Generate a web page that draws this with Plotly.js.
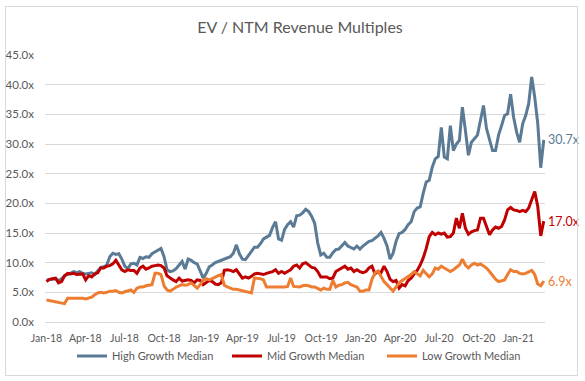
<!DOCTYPE html>
<html>
<head>
<meta charset="utf-8">
<script src="https://cdn.plot.ly/plotly-3.0.1.min.js"></script>
<style>
  html, body { margin: 0; padding: 0; background: #ffffff; }
  #wrap { position: relative; width: 585px; height: 381px; }
  #chart { position: absolute; left: 0; top: 0; width: 585px; height: 381px; }
  #frame { position: absolute; left: 5px; top: 6px; width: 573px; height: 370px;
           border: 1px solid #d9d9d9; box-sizing: border-box; pointer-events: none; }
</style>
</head>
<body>
<div id="wrap"><div id="chart"></div><div id="frame"></div></div>
<script>
// Series names
const seriesNames = ['High Growth Median', 'Mid Growth Median', 'Low Growth Median'];
const seriesColors = ['#5a7a95', '#c00000', '#ed7d31'];

// Weekly observations starting 2018-01-01 (one value per week)
const firstDate = '2018-01-01';

const highGrowth = [
  7.1,7.1,7.2,7.3,7.0,7.3,7.8,8.0,8.3,8.5,
  8.3,8.5,8.2,8.1,8.2,8.3,8.0,8.6,9.2,9.3,
  9.6,11.0,11.6,11.4,11.5,10.6,9.4,9.0,9.8,9.9,
  9.6,10.9,10.7,11.0,10.9,11.5,11.8,12.2,12.4,11.0,
  8.8,8.5,8.6,9.0,9.6,10.2,8.9,10.6,10.4,10.0,
  9.8,8.7,7.4,8.2,9.3,9.6,10.0,10.2,10.4,10.6,
  10.8,11.0,11.6,13.0,11.5,10.6,10.5,11.2,12.0,12.6,
  12.6,13.2,14.0,14.3,14.6,15.9,16.9,14.0,13.8,15.6,
  16.4,16.9,16.0,17.9,18.0,18.4,19.0,18.6,17.8,16.6,
  13.3,11.3,11.6,10.9,10.9,11.7,12.2,12.3,12.8,13.4,
  12.8,12.5,12.3,12.8,12.3,12.8,13.2,13.6,13.7,14.1,
  14.5,15.1,14.1,12.8,10.6,11.6,13.6,14.9,15.1,15.6,
  16.4,16.9,18.6,19.2,19.4,21.7,23.6,23.9,26.1,27.5,
  27.9,32.8,27.8,27.5,33.1,28.9,30.0,30.6,36.2,32.3,
  28.1,30.3,30.9,31.5,34.0,36.5,32.6,30.9,28.9,28.9,
  31.5,33.1,34.8,35.1,38.4,34.5,32.0,30.3,33.4,34.8,
  36.8,41.3,37.9,33.5,26.0,30.7
];

const midGrowth = [
  6.8,7.2,7.3,7.4,6.6,6.8,7.8,8.2,8.1,8.2,
  8.0,8.0,8.1,7.1,7.8,7.6,8.1,8.3,9.1,9.1,
  9.4,9.5,9.8,10.4,9.6,8.8,8.5,8.8,8.7,8.7,
  8.2,9.1,9.4,8.9,9.1,9.4,9.5,9.6,9.5,9.1,
  7.8,7.4,7.1,6.8,7.4,6.9,7.0,7.1,7.0,6.6,
  7.1,7.0,6.3,6.6,7.0,6.8,6.4,6.3,6.6,8.7,
  8.8,8.7,8.5,8.8,8.0,7.4,7.6,7.4,7.7,8.1,
  8.2,8.1,8.0,8.2,8.3,8.5,8.8,8.2,8.5,8.2,
  8.5,8.8,9.4,9.6,9.1,9.8,10.0,9.6,9.2,9.1,
  8.5,7.6,7.6,7.6,7.3,7.4,8.5,8.8,9.1,9.4,
  8.9,9.1,8.5,8.8,8.5,8.3,8.5,9.1,9.4,8.1,
  8.5,8.3,9.4,8.5,7.2,6.8,7.0,5.7,6.3,6.1,
  7.0,7.4,8.1,8.7,9.6,10.8,12.4,14.4,15.1,14.7,
  15.0,14.8,15.0,14.3,14.4,15.0,17.5,15.8,18.3,15.8,
  14.8,15.2,15.4,15.5,17.5,17.5,16.1,14.7,15.5,16.0,
  15.8,16.1,17.2,18.9,19.3,18.9,18.8,18.6,18.8,18.6,
  19.2,20.5,22.0,19.5,14.5,17.0
];

const lowGrowth = [
  3.7,3.6,3.5,3.5,3.4,3.2,3.1,4.0,4.0,4.0,
  4.1,4.1,4.0,3.9,4.0,4.2,4.6,4.9,5.0,4.9,
  5.0,5.2,5.2,5.3,5.0,4.9,5.1,5.3,5.4,5.0,
  5.7,5.9,5.9,6.1,6.2,6.3,8.2,8.2,8.0,6.1,
  5.4,5.2,5.5,5.9,6.1,6.3,6.2,6.3,6.6,6.2,
  5.7,6.3,7.0,7.3,7.1,7.3,7.6,7.8,8.0,6.2,
  5.9,5.7,5.5,5.5,5.4,5.3,5.2,5.0,4.9,7.4,
  7.4,7.3,7.1,5.9,5.9,5.9,5.8,5.9,5.8,5.9,
  6.0,7.4,6.0,5.9,5.9,6.1,6.2,6.1,5.9,5.9,
  5.7,5.4,5.7,5.5,5.5,7.0,5.9,6.2,6.3,6.6,
  6.7,6.3,6.1,5.9,5.2,5.2,5.4,5.4,7.2,8.3,
  8.6,7.6,6.8,6.3,5.7,5.2,5.9,6.6,7.0,7.3,
  7.7,8.0,8.5,8.2,7.8,8.7,8.1,7.6,8.1,9.1,
  8.9,9.4,9.1,8.8,8.5,8.8,9.2,9.6,10.6,9.6,
  9.1,9.6,9.9,9.6,9.8,9.4,9.1,8.5,7.8,7.2,
  6.8,7.0,7.1,8.0,8.8,8.5,8.5,8.2,8.1,8.2,
  8.5,8.7,8.0,6.4,6.1,6.9
];

// Axis settings
const xRange = ['2017-12-28 12:00', '2021-03-03 21:00'];
const yRange = [0, 45];

function weeklyDates(start, n) {
  const t0 = new Date(start + 'T00:00:00Z').getTime();
  const out = [];
  for (let i = 0; i < n; i++) {
    out.push(new Date(t0 + i * 7 * 86400000).toISOString().slice(0, 10));
  }
  return out;
}

const allSeries = [highGrowth, midGrowth, lowGrowth];
const traces = allSeries.map((vals, k) => ({
  type: 'scatter',
  mode: 'lines',
  name: seriesNames[k],
  x: weeklyDates(firstDate, vals.length),
  y: vals,
  line: { color: seriesColors[k], width: 3 },
  hoverinfo: 'skip'
}));

const annotations = allSeries.map((vals, k) => {
  const xs = weeklyDates(firstDate, vals.length);
  const last = vals[vals.length - 1];
  return {
    x: xs[xs.length - 1], y: last, xref: 'x', yref: 'y',
    text: last.toFixed(1) + 'x', showarrow: false,
    xanchor: 'left', yanchor: 'middle', xshift: 2,
    font: { family: 'Lato, sans-serif', size: 12.5, color: seriesColors[k] }
  };
});

const layout = {
  width: 585, height: 381,
  margin: { l: 45, r: 40, t: 55, b: 59, pad: 0 },
  paper_bgcolor: '#ffffff', plot_bgcolor: '#ffffff',
  font: { family: 'Lato, sans-serif', color: '#595959', size: 11 },
  title: {
    text: 'EV / NTM Revenue Multiples',
    font: { family: 'Lato, sans-serif', size: 16, color: '#595959' },
    x: 300 / 585, xanchor: 'center', xref: 'container',
    y: 1 - 27 / 381, yanchor: 'middle', yref: 'container'
  },
  xaxis: {
    type: 'date', range: xRange,
    tick0: '2018-01-01', dtick: 'M3', tickformat: '%b-%y',
    showgrid: false, zeroline: false,
    showline: true, linecolor: '#d9d9d9', linewidth: 1,
    ticks: '', ticklabelstandoff: 6,
    tickfont: { size: 10.5, color: '#595959' }, fixedrange: true
  },
  yaxis: {
    range: yRange, dtick: 5, tickformat: '.1f', ticksuffix: 'x',
    showgrid: true, gridcolor: '#d9d9d9', gridwidth: 1,
    zeroline: false, showline: false, ticks: '', ticklabelstandoff: 10,
    tickfont: { size: 11.5, color: '#595959' }, fixedrange: true
  },
  showlegend: true,
  legend: {
    orientation: 'h', xref: 'container', x: 72 / 585, xanchor: 'left',
    yref: 'container', y: 1 - 356 / 381, yanchor: 'middle',
    font: { size: 11, color: '#595959' },
    traceorder: 'normal', itemwidth: 30,
    entrywidth: 110, entrywidthmode: 'pixels',
    bgcolor: 'rgba(0,0,0,0)'
  },
  annotations: annotations
};

Plotly.newPlot('chart', traces, layout, { displayModeBar: false, staticPlot: true });
</script>
</body>
</html>
